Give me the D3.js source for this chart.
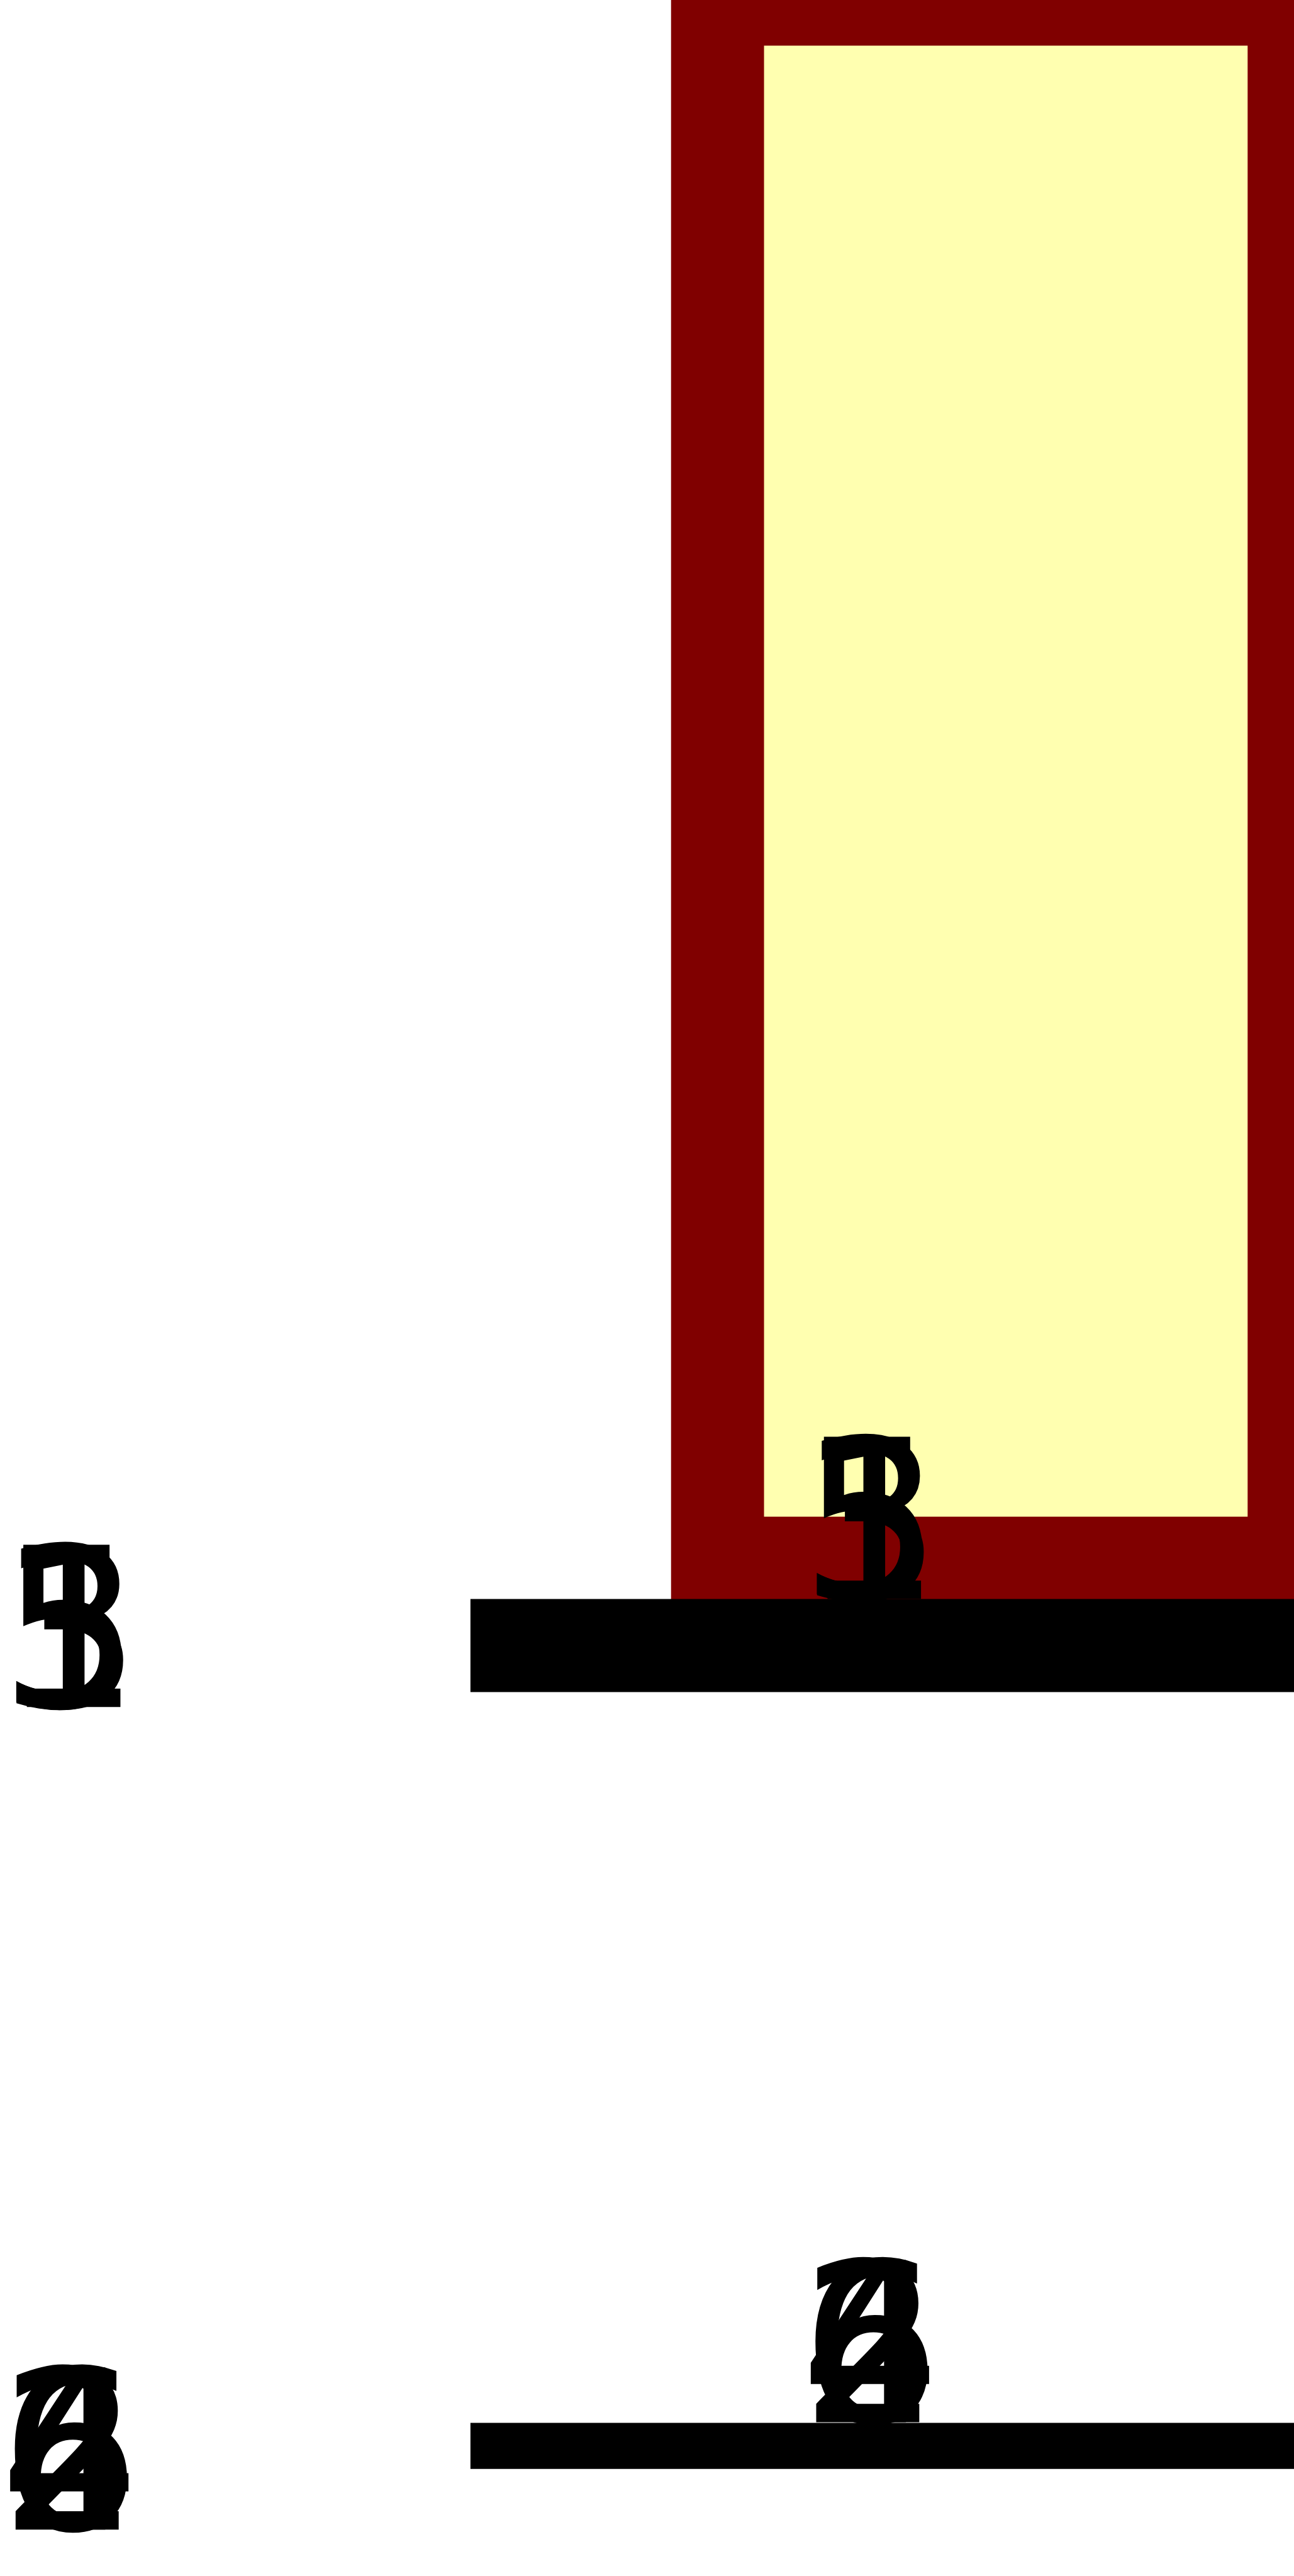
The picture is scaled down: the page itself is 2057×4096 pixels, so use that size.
<!DOCTYPE html>
<html><head><meta charset="utf-8">
<script src="https://cdn.jsdelivr.net/npm/d3@7/dist/d3.min.js"></script>
<style>html,body{margin:0;padding:0;background:#fff;overflow:hidden}svg{display:block}</style>
</head><body>
<script>
// ---- data ----
const oddLabels = ["1", "3", "5"];
const evenLabels = ["2", "4", "6"];
const barCategories = ["A"];
const barStart = [3];
const barEnd = [10];
const barTop = [10];
const barBottom = [0.5];
const labelPositions = [-4.86, 4.86];

// ---- layout (reference pixel space, then scaled) ----
const W = 2324, H = 4628, S = 0.885;
const svg = d3.select("body").append("svg")
  .attr("width", Math.round(W * S)).attr("height", Math.round(H * S));
const g = svg.append("g").attr("transform", `scale(${S})`);

const x = d3.scaleLinear().domain([0, 10]).range([845, 2324.5]);
const y = d3.scaleLinear().domain([0.5, 10]).range([2808.5, -1.5]);

// bar with heavy border
g.selectAll("rect.bar").data(barCategories).enter().append("rect")
  .attr("class", "bar")
  .attr("x", (d, i) => x(barStart[i]))
  .attr("width", (d, i) => x(barEnd[i]) - x(barStart[i]))
  .attr("y", (d, i) => y(barTop[i]))
  .attr("height", (d, i) => y(barBottom[i]) - y(barTop[i]))
  .attr("fill", "#ffffb0")
  .attr("stroke", "#800000")
  .attr("stroke-width", 167);

// axes rows
const rows = [
  {labels: oddLabels, lineY: 2956.5, lineW: 167, base: 3067, innerBase: 2873},
  {labels: evenLabels, lineY: 4394.5, lineW: 83, base: 4545, innerBase: 4352}
];

rows.forEach(r => {
  g.append("path")
    .attr("d", d3.line()([[x(0), r.lineY], [x(12), r.lineY]]))
    .attr("stroke", "#000").attr("stroke-width", r.lineW).attr("fill", "none");
  labelPositions.forEach((p, j) => {
    g.selectAll(null).data(r.labels).enter().append("text")
      .attr("x", x(p))
      .attr("y", j === 0 ? r.base : r.innerBase)
      .attr("text-anchor", "middle")
      .attr("font-family", "DejaVu Sans")
      .attr("font-size", 400)
      .attr("fill", "#000")
      .text(d => d);
  });
});
</script>
</body></html>
